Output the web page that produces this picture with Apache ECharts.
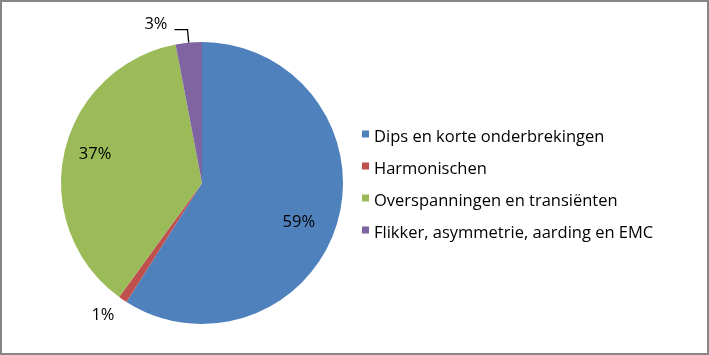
<!DOCTYPE html>
<html><head><meta charset="utf-8">
<script src="https://cdn.jsdelivr.net/npm/echarts@6/dist/echarts.min.js"></script>
<style>
html,body{margin:0;padding:0;background:#fff;}
#wrap{width:709px;height:355px;box-sizing:border-box;border:2px solid #868686;position:relative;}
#c{position:absolute;left:-2px;top:-2px;width:709px;height:355px;}
</style></head>
<body><div id="wrap"><div id="c"></div></div>
<script>
const categories = ['Dips en korte onderbrekingen','Harmonischen','Overspanningen en transiënten','Flikker, asymmetrie, aarding en EMC'];
const values = [59, 1, 37, 3];
const colors = ['#4F81BD','#C0504D','#9BBB59','#8064A2'];
const FONT = 'Open Sans';
const CX = 202, CY = 183, R = 141;
// inside label placement: radius fraction and angle tweak (degrees)
const insidePlace = [{r: 0.742, da: 6}, null, {r: 0.785, da: 2.3}, null];

const data = categories.map((n, i) => {
  const d = {name: n, value: values[i], itemStyle: {color: colors[i]}};
  if (i === 1) {
    d.label = {position: 'outside', distanceToLabelLine: 0};
    d.labelLine = {show: false, length: 20, length2: 0};
  } else if (i === 3) {
    d.label = {position: 'outside', distanceToLabelLine: 7};
    d.labelLine = {show: true, length: 13, length2: 13, lineStyle: {color: '#000', width: 1.3}};
  }
  return d;
});

const chart = echarts.init(document.getElementById('c'));
chart.setOption({
  animation: false,
  legend: {
    orient: 'vertical', left: 362, top: 128, padding: 0,
    itemWidth: 7, itemHeight: 13, itemGap: 14,
    icon: 'path://M0,0L7,0L7,7L0,7Z M0,13L7,13',
    textStyle: {fontFamily: FONT, fontSize: 16.5, color: '#000', lineHeight: 18},
    data: categories
  },
  series: [{
    type: 'pie',
    center: [CX, CY], radius: R,
    startAngle: 90, clockwise: true,
    avoidLabelOverlap: false,
    itemStyle: {borderWidth: 0},
    label: {show: true, position: 'inside', formatter: '{c}%', fontFamily: FONT, fontSize: 16.5, color: '#000'},
    labelLayout: function (p) {
      const lx = p.labelRect.x + p.labelRect.width / 2;
      const ly = p.labelRect.y + p.labelRect.height / 2;
      if (p.dataIndex === 1) return {dx: 3, dy: -1};
      if (p.dataIndex === 3) return {dy: -5};
      const pl = insidePlace[p.dataIndex];
      if (!pl) return {};
      const a = Math.atan2(ly - CY, lx - CX) + pl.da * Math.PI / 180;
      const tx = CX + pl.r * R * Math.cos(a);
      const ty = CY + pl.r * R * Math.sin(a);
      return {dx: tx - lx, dy: ty - ly};
    },
    data: data
  }]
});
</script></body></html>
